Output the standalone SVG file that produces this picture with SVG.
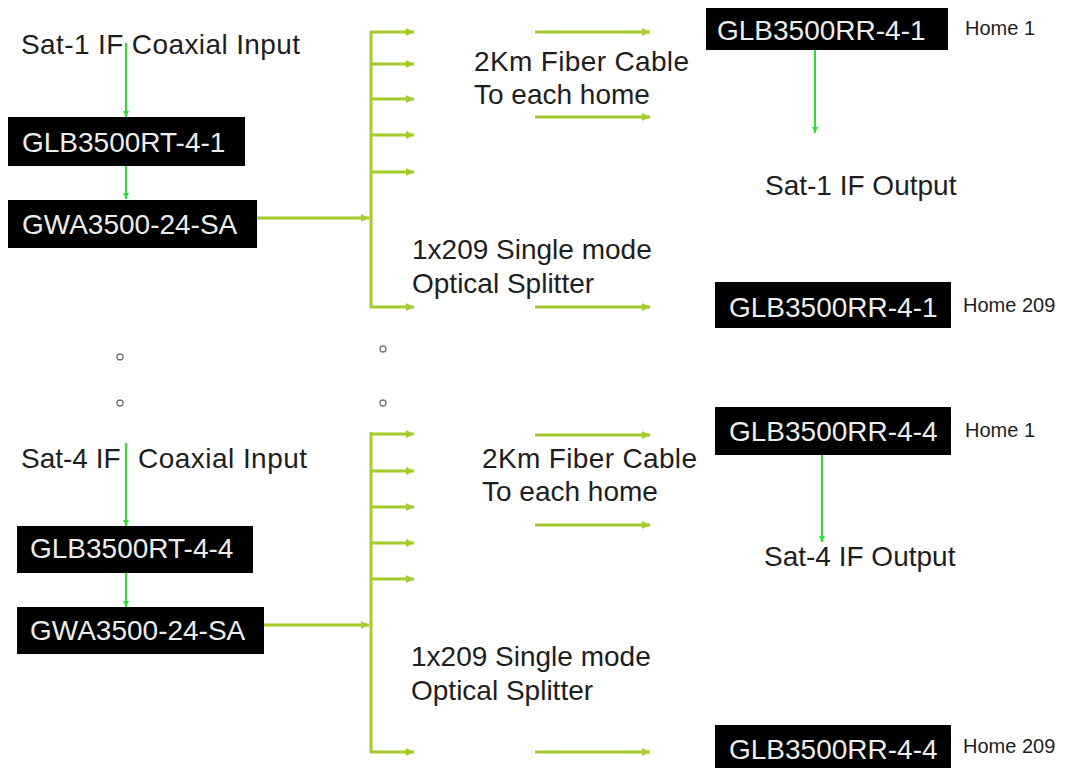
<svg xmlns="http://www.w3.org/2000/svg" width="1069" height="768" viewBox="0 0 1069 768">
<defs>
<style>
.t{font-family:"Liberation Sans",Arial,sans-serif;font-size:28px;fill:#1e1e1e}
.h{font-family:"Liberation Sans",Arial,sans-serif;font-size:20px;fill:#1e1e1e}
.bx{fill:#000}
.bt{font-family:"Liberation Sans",Arial,sans-serif;font-size:28px;fill:#ececec}
.g{stroke:#2ee02e;stroke-width:2;fill:none}
.y{stroke:#a4cc2c;stroke-width:3;fill:none}
.dot{fill:none;stroke:#6a7a70;stroke-width:1.3}
</style>
<marker id="ag" markerUnits="userSpaceOnUse" markerWidth="8" markerHeight="8" refX="6" refY="3" orient="auto"><path d="M0,0 L6,3 L0,6 z" fill="#2ee02e"/></marker>
<marker id="ay" markerUnits="userSpaceOnUse" markerWidth="10" markerHeight="10" refX="8" refY="4" orient="auto"><path d="M0,0 L8,4 L0,8 z" fill="#a4cc2c"/></marker>
</defs>
<rect width="1069" height="768" fill="#fff"/>

<g id="connectors">
<line class="g" x1="126" y1="43" x2="126" y2="117" marker-end="url(#ag)"/>
<line class="g" x1="126" y1="166" x2="126" y2="199" marker-end="url(#ag)"/>
<line class="y" x1="257" y1="218" x2="369" y2="218" marker-end="url(#ay)"/>
<line class="y" x1="371" y1="31" x2="371" y2="308"/>
<line class="y" x1="370" y1="32" x2="414" y2="32" marker-end="url(#ay)"/>
<line class="y" x1="370" y1="64" x2="414" y2="64" marker-end="url(#ay)"/>
<line class="y" x1="370" y1="99" x2="414" y2="99" marker-end="url(#ay)"/>
<line class="y" x1="370" y1="135" x2="414" y2="135" marker-end="url(#ay)"/>
<line class="y" x1="370" y1="172" x2="414" y2="172" marker-end="url(#ay)"/>
<line class="y" x1="370" y1="307" x2="414" y2="307" marker-end="url(#ay)"/>
<line class="y" x1="535" y1="32" x2="650" y2="32" marker-end="url(#ay)"/>
<line class="y" x1="535" y1="117" x2="650" y2="117" marker-end="url(#ay)"/>
<line class="y" x1="535" y1="307" x2="650" y2="307" marker-end="url(#ay)"/>
<line class="g" x1="815" y1="50" x2="815" y2="133" marker-end="url(#ag)"/>
<line class="g" x1="126" y1="443" x2="126" y2="526" marker-end="url(#ag)"/>
<line class="g" x1="126" y1="573" x2="126" y2="607" marker-end="url(#ag)"/>
<line class="y" x1="264" y1="625" x2="369" y2="625" marker-end="url(#ay)"/>
<line class="y" x1="371" y1="432" x2="371" y2="753"/>
<line class="y" x1="370" y1="434" x2="414" y2="434" marker-end="url(#ay)"/>
<line class="y" x1="370" y1="471" x2="414" y2="471" marker-end="url(#ay)"/>
<line class="y" x1="370" y1="507" x2="414" y2="507" marker-end="url(#ay)"/>
<line class="y" x1="370" y1="543" x2="414" y2="543" marker-end="url(#ay)"/>
<line class="y" x1="370" y1="579" x2="414" y2="579" marker-end="url(#ay)"/>
<line class="y" x1="370" y1="752" x2="414" y2="752" marker-end="url(#ay)"/>
<line class="y" x1="535" y1="435" x2="650" y2="435" marker-end="url(#ay)"/>
<line class="y" x1="535" y1="525" x2="650" y2="525" marker-end="url(#ay)"/>
<line class="y" x1="535" y1="752" x2="650" y2="752" marker-end="url(#ay)"/>
<line class="g" x1="822" y1="455" x2="822" y2="542" marker-end="url(#ag)"/>
</g>

<g id="labels">
<text class="t" x="21" y="54" textLength="279">Sat-1 IF Coaxial Input</text>
<text class="t" x="474" y="71" textLength="215">2Km Fiber Cable</text>
<text class="t" x="474" y="104">To each home</text>
<text class="t" x="765" y="195">Sat-1 IF Output</text>
<text class="t" x="412" y="259">1x209 Single mode</text>
<text class="t" x="412" y="293">Optical Splitter</text>
<text class="t" x="21" y="468">Sat-4 IF <tspan x="138" textLength="169">Coaxial Input</tspan></text>
<text class="t" x="482" y="468" textLength="215">2Km Fiber Cable</text>
<text class="t" x="482" y="501">To each home</text>
<text class="t" x="764" y="566">Sat-4 IF Output</text>
<text class="t" x="411" y="666">1x209 Single mode</text>
<text class="t" x="411" y="700">Optical Splitter</text>
</g>

<g id="dots">
<circle class="dot" cx="120" cy="357" r="3"/>
<circle class="dot" cx="120" cy="403" r="3"/>
<circle class="dot" cx="383" cy="349" r="3"/>
<circle class="dot" cx="383" cy="403" r="3"/>
</g>

<g id="rt-4-1"><rect class="bx" x="8" y="117" width="237" height="49"/><text class="bt" x="22" y="152">GLB3500RT-4-1</text></g>
<g id="wa-1"><rect class="bx" x="8" y="200" width="249" height="48"/><text class="bt" x="22" y="234">GWA3500-24-SA</text></g>
<g id="rr-4-1-h1"><rect class="bx" x="706" y="8" width="242" height="42"/><text class="bt" x="717" y="40">GLB3500RR-4-1</text><text class="h" x="965" y="35">Home 1</text></g>
<g id="rr-4-1-h209"><rect class="bx" x="715" y="282" width="236" height="46"/><text class="bt" x="729" y="317">GLB3500RR-4-1</text><text class="h" x="963" y="312">Home 209</text></g>
<g id="rt-4-4"><rect class="bx" x="17" y="526" width="236" height="47"/><text class="bt" x="30" y="558">GLB3500RT-4-4</text></g>
<g id="wa-4"><rect class="bx" x="17" y="607" width="247" height="47"/><text class="bt" x="30" y="640">GWA3500-24-SA</text></g>
<g id="rr-4-4-h1"><rect class="bx" x="715" y="407" width="236" height="48"/><text class="bt" x="729" y="441">GLB3500RR-4-4</text><text class="h" x="965" y="437">Home 1</text></g>
<g id="rr-4-4-h209"><rect class="bx" x="715" y="725" width="236" height="50"/><text class="bt" x="729" y="759">GLB3500RR-4-4</text><text class="h" x="963" y="753">Home 209</text></g>
</svg>
